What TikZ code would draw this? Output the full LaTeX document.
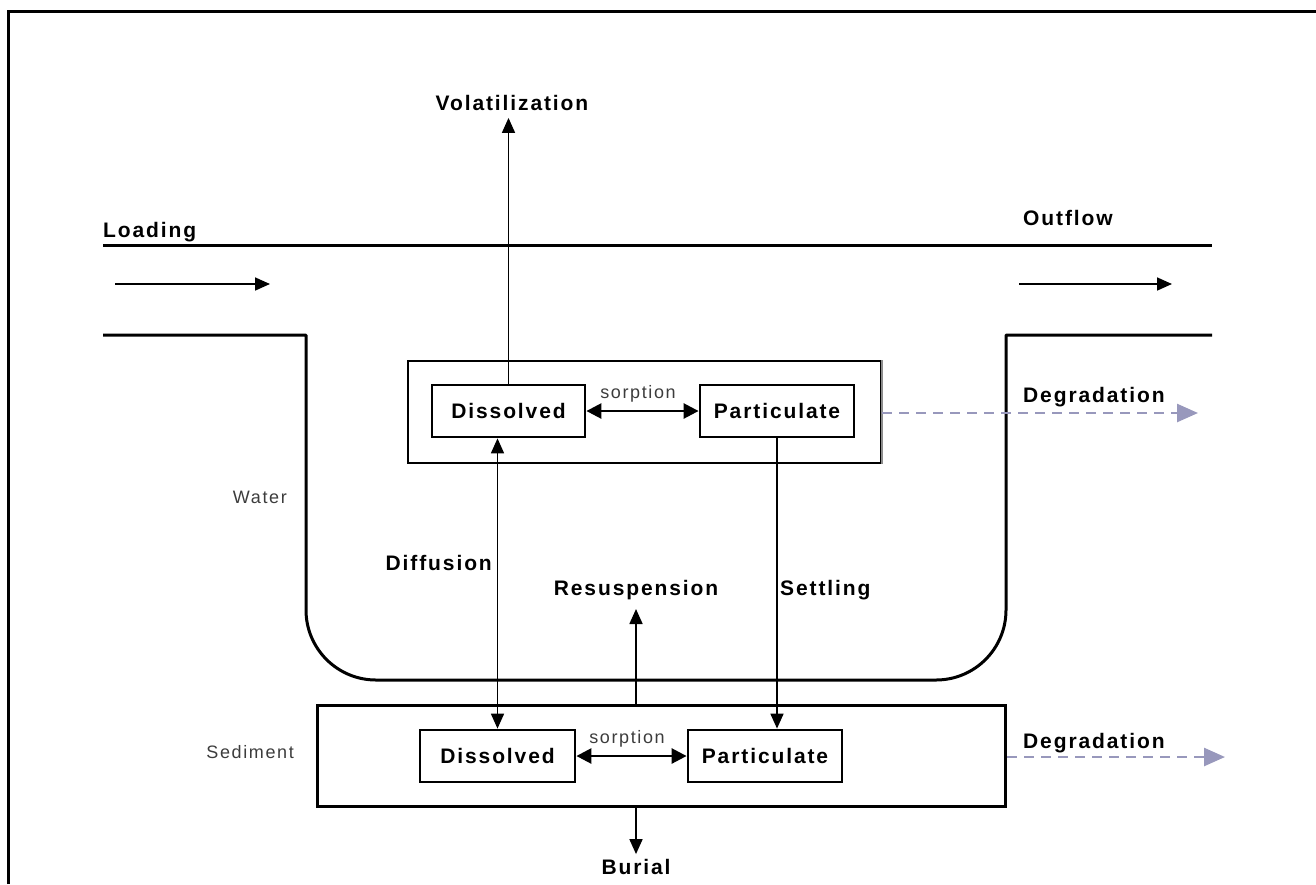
\documentclass[tikz,border=0pt]{standalone}
\usepackage{fontspec}
\setmainfont{Liberation Sans}[LetterSpace=9]
\usetikzlibrary{arrows.meta}

\definecolor{degr}{RGB}{152,152,188}
\definecolor{soft}{RGB}{60,60,60}

\begin{document}
\begin{tikzpicture}[x=1pt,y=-1pt,
  lbl/.style={font=\fontsize{21}{24}\selectfont\bfseries, inner sep=0pt},
  small/.style={font=\fontsize{18}{20}\selectfont, text=soft, inner sep=0pt},
  cbox/.style={draw, line width=2.8pt, inner sep=0pt, minimum height=52pt,
    font=\fontsize{21}{24}\selectfont\bfseries},
  flow/.style={line width=1.7pt, -{Triangle[length=15pt,width=13pt]}},
  flowboth/.style={line width=1.7pt, {Triangle[length=15pt,width=13pt]}-{Triangle[length=15pt,width=13pt]}},
  sorb/.style={line width=2.6pt, {Triangle[length=15pt,width=15pt]}-{Triangle[length=15pt,width=15pt]}},
  degflow/.style={draw=degr, line width=2.6pt, dash pattern=on 10pt off 7pt,
    -{Triangle[length=21pt,width=18pt,fill=degr]}},
  river/.style={line width=3pt}
]
\useasboundingbox (0,0) rectangle (1316,884);

% outer frame
\draw[line width=3pt] (8,884) -- (8,11) -- (1316,11);

% river channel
\draw[river] (103,245) -- (1212,245);
\draw[river, line join=round] (103,335) -- (306,335) -- (306,610)
  arc[start angle=180, end angle=270, radius=70pt] -- (936,680)
  arc[start angle=270, end angle=360, radius=70pt] -- (1006,335) -- (1212,335);

% inflow and outflow
\node[lbl, anchor=west] (load) at (103,232) {Loading};
\node[lbl, anchor=west] (outf) at (1023,218) {Outflow};
\coordinate (loadA) at (115,284);
\coordinate (loadB) at (270,284);
\coordinate (outA) at (1019,284);
\coordinate (outB) at (1172,284);
\draw[flow] (loadA) -- (loadB);
\draw[flow] (outA) -- (outB);

% water column compartment
\node[draw, line width=2pt, minimum width=473pt, minimum height=102pt, inner sep=0pt]
  (wbox) at (644.5,412) {};
\draw[line width=2pt, draw=black!45] (wbox.north east) -- (wbox.south east);
\node[cbox, minimum width=153pt] (dw) at (508.5,411) {Dissolved};
\node[cbox, minimum width=154pt] (pw) at (777,411) {Particulate};
\draw[sorb] (dw.east) -- (pw.west);
\node[small] (sw) at (638,394) {sorption};

% sediment compartment
\node[draw, line width=3pt, minimum width=688pt, minimum height=101pt, inner sep=0pt]
  (sbox) at (661.5,755.5) {};
\node[cbox, minimum width=155pt] (ds) at (497.5,756) {Dissolved};
\node[cbox, minimum width=154pt] (ps) at (765,756) {Particulate};
\draw[sorb] (ds.east) -- (ps.west);
\node[small] (ss) at (627,739) {sorption};

% compartment labels
\node[small, anchor=east] (water) at (287,497) {Water};
\node[small, anchor=east] (sed) at (294,752) {Sediment};

% exchange processes
\node[lbl] (vol) at (512,103) {Volatilization};
\draw[flow, shorten >=7pt] (dw.north) -- (dw.north |- vol.south);

\node[lbl, anchor=east] (diff) at (492,563) {Diffusion};
\draw[flowboth] (ds.north) -- (ds.north |- dw.south);

\node[lbl, anchor=west] (settl) at (780,590) {Settling};
\draw[flow] (pw.south) -- (pw.south |- ps.north);

\node[lbl] (resus) at (636,590) {Resuspension};
\draw[flow, shorten >=9pt] (sbox.north -| resus.south) -- (resus.south);

\node[lbl] (bur) at (636,867) {Burial};
\draw[flow, shorten >=5pt] (sbox.south -| bur.north) -- (bur.north);

% degradation losses
\node[lbl, anchor=west] (degw) at (1023,397) {Degradation};
\node[lbl, anchor=west] (degs) at (1023,743) {Degradation};
\coordinate (degwEnd) at (1198,413);
\coordinate (degsEnd) at (1225,757);
\draw[degflow] (wbox.east |- degwEnd) -- (degwEnd);
\draw[degflow] (sbox.east |- degsEnd) -- (degsEnd);
\end{tikzpicture}
\end{document}
